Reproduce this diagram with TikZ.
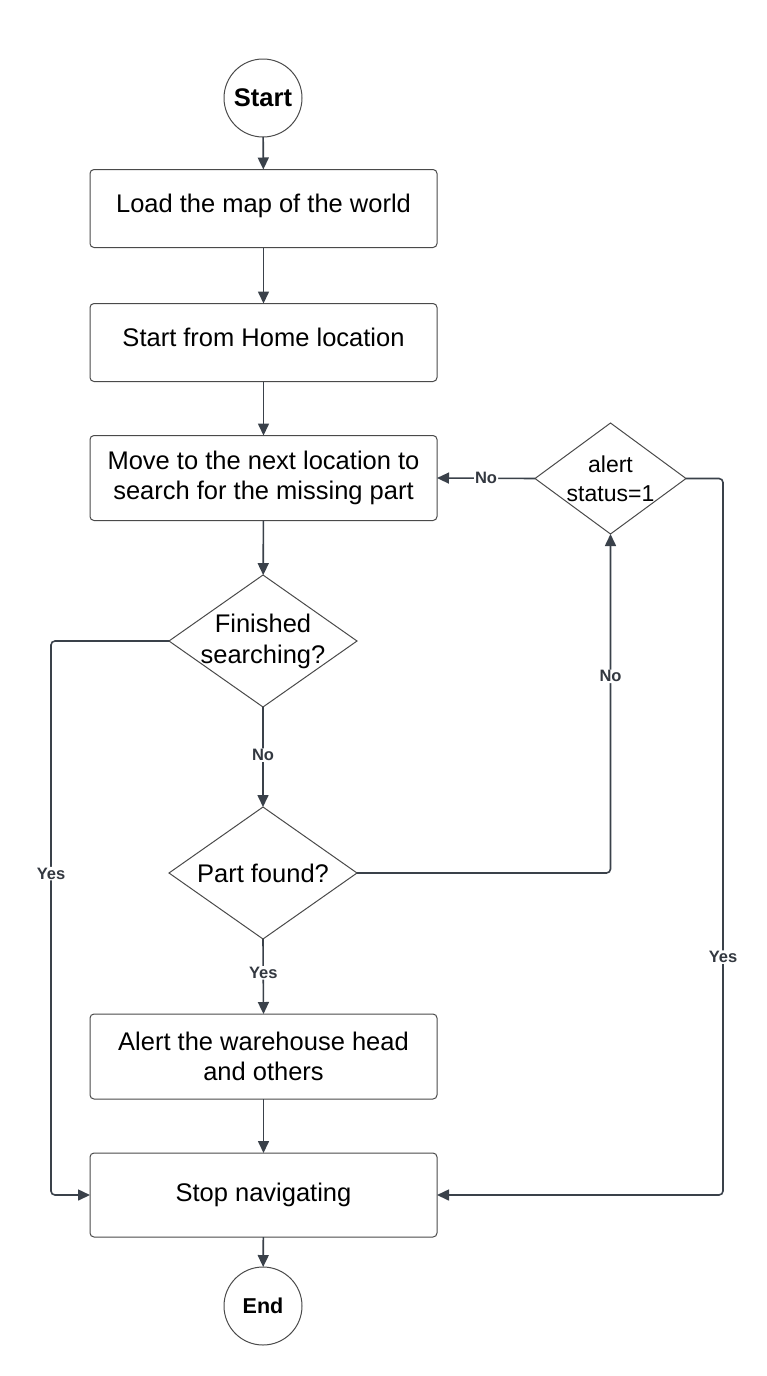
\documentclass[tikz,border=0pt]{standalone}
\usepackage{fontspec}
\setmainfont{Liberation Sans}
\usetikzlibrary{shapes.geometric,arrows.meta}
\definecolor{conncol}{HTML}{3A414A}
\definecolor{bordercol}{HTML}{4A4A4A}
\definecolor{labcol}{HTML}{333840}
\tikzset{
  box/.style={draw=bordercol, line width=1pt, rounded corners=4pt, minimum width=347pt, inner sep=0pt, outer sep=0pt, align=center, font=\fontsize{25.5}{30}\selectfont},
  term/.style={draw=bordercol, line width=1pt, circle, minimum size=78pt, inner sep=0pt, outer sep=0pt, font=\bfseries\fontsize{25.5}{28}\selectfont},
  dia/.style={draw=bordercol, line width=1pt, diamond, inner sep=0pt, outer sep=0pt},
  diatext/.style={align=center, font=\fontsize{25.5}{31}\selectfont, inner sep=0pt},
  conn/.style={draw=conncol, line width=1.6pt, rounded corners=4pt, -{Triangle[length=12pt,width=11pt]}},
  lab/.style={fill=white, text=labcol, font=\bfseries\fontsize{16.5}{19}\selectfont, inner sep=1pt}
}
\begin{document}
\begin{tikzpicture}[x=1pt,y=-1pt]
\useasboundingbox (0,0) rectangle (767,1376);
\node[term] (start) at (263,98) {Start};
\node[box, minimum height=78pt, text depth=11pt] (b1) at (263.5,208.5) {Load the map of the world};
\node[box, minimum height=78pt, text depth=11pt] (b2) at (263.5,342.5) {Start from Home location};
\node[box, minimum height=85pt] (b3) at (263.5,478) {Move to the next location to\\search for the missing part};
\node[dia, minimum width=188pt, minimum height=132pt] (d1) at (263,641) {};
\node[diatext] at (d1) {Finished\\searching?};
\node[dia, minimum width=188pt, minimum height=132pt] (d2) at (263,873) {};
\node[diatext] at (d2) {Part found?};
\node[dia, minimum width=151pt, minimum height=111pt] (d3) at (610.5,478.5) {};
\node[diatext, font=\fontsize{23}{29}\selectfont] at (d3) {alert\\status=1};
\node[box, minimum height=85pt] (b4) at (263.5,1056.5) {Alert the warehouse head\\and others};
\node[box, minimum height=84pt] (b5) at (263.5,1195) {Stop navigating};
\node[term, font=\bfseries\fontsize{21.5}{24}\selectfont] (end) at (263,1306) {End};
\coordinate (lc) at (51,641);
\coordinate (rc) at (723,478.5);

\draw[conn] (start) -- (b1);
\draw[conn] (b1) -- (b2);
\draw[conn] (b2) -- (b3);
\draw[conn] (b3) -- (d1);
\draw[conn] (d1.south) -- node[lab, pos=0.48] {No} (d2.north);
\draw[conn] (d2.south) -- node[lab, pos=0.45] {Yes} (b4.north);
\draw[conn] (b4) -- (b5);
\draw[conn] (b5) -- (end);
\draw[conn] (d1.west) -- (lc) |- node[lab, pos=0.21] {Yes} (b5.west);
\draw[conn] (d3.east) -- (rc) |- node[lab, pos=0.334] {Yes} (b5.east);
\draw[conn] (d2.east) -| node[lab, pos=0.79] {No} (d3.south);
\draw[conn] (d3.west) -- node[lab, pos=0.5] {No} (b3.east);
\end{tikzpicture}
\end{document}
